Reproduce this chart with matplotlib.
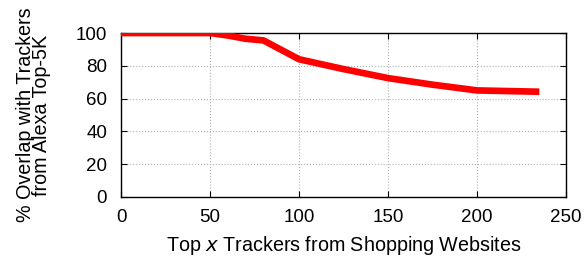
import matplotlib
matplotlib.use("Agg")
import matplotlib.pyplot as plt

plt.rcParams['font.family'] = ['Liberation Sans', 'DejaVu Sans']

# top x trackers vs % overlap with alexa top-5k
top_x = [0, 50, 60, 70, 80, 100, 125, 150, 175, 200, 235]
overlap = [100, 100, 98.5, 96.5, 95.5, 84, 78, 72.5, 68.5, 65, 64.2]

fig = plt.figure(figsize=(5.86, 2.56), dpi=100)
ax = fig.add_axes([0.2065, 0.2305, 0.7595, 0.6405])

ax.plot(top_x, overlap, color='#ff0000', linewidth=4.8, solid_capstyle='butt', zorder=3)

ax.set_xlim(0, 250)
ax.set_ylim(0, 100)
ax.set_xticks([0, 50, 100, 150, 200, 250])
ax.set_yticks([0, 20, 40, 60, 80, 100])
ax.tick_params(direction='in', top=True, right=True, labelsize=13.5, length=4)
ax.tick_params(axis='x', pad=9)
ax.tick_params(axis='y', pad=10)
ax.grid(True, linestyle=':', color='#b0b0b0', linewidth=0.8)
for s in ax.spines.values():
    s.set_linewidth(1.0)

ax.set_xlabel('Top $x$ Trackers from Shopping Websites', fontsize=14.2, va='center')
ax.xaxis.set_label_coords(0.5, -0.293)
ax.set_ylabel('% Overlap with Trackers\nfrom Alexa Top-5K', fontsize=14.2, linespacing=0.8, va='center')
ax.yaxis.set_label_coords(-0.196, 0.5)

fig.savefig('out.png', dpi=100)
